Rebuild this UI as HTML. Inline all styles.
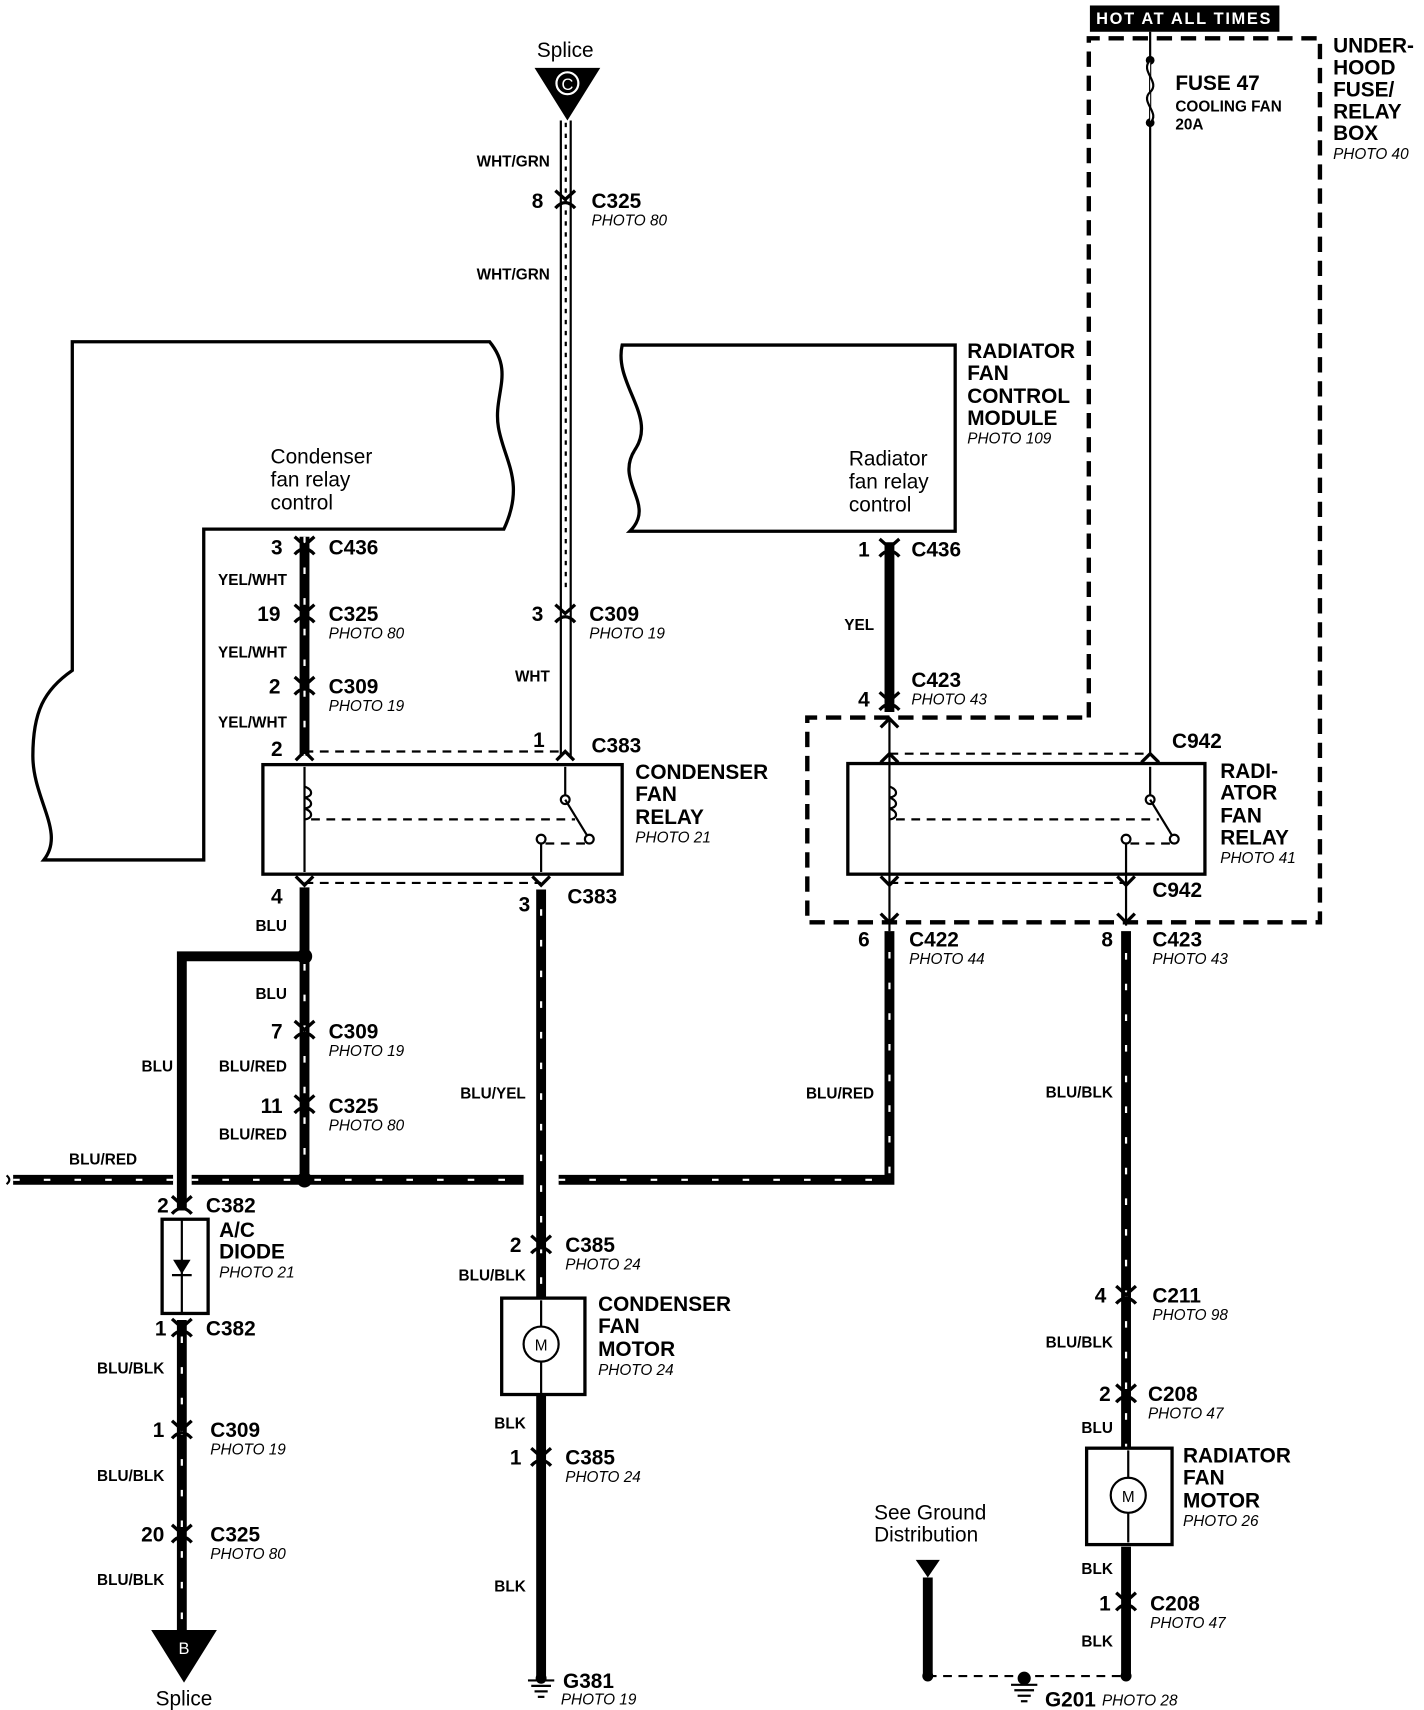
<!DOCTYPE html>
<html><head><meta charset="utf-8"><style>
html,body{margin:0;padding:0;background:#fff;width:1424px;height:1710px;overflow:hidden}
svg{display:block}
text{font-family:"Liberation Sans",sans-serif;fill:#000}
.b{font-weight:bold;font-size:19px}
.s{font-weight:bold;font-size:14px}
.p{font-style:italic;font-size:14px}
.n{font-size:19px}
.w{stroke:#000;stroke-width:9;fill:none}
.st{stroke:#fff;stroke-width:2;stroke-dasharray:6 22;fill:none}
.t{stroke:#000;stroke-width:2;fill:none}
.d{stroke:#000;stroke-width:2;fill:none;stroke-dasharray:8 6}
.bx{stroke:#000;stroke-width:4;fill:none;stroke-dasharray:14 8}
.c{stroke:#000;stroke-width:3;fill:none}
</style></head><body>
<svg width="1424" height="1710" viewBox="0 0 1300 1561" preserveAspectRatio="none">
<defs>
<g id="cn"><path class="c" d="M-9,-8 L0,0 L9,-8"/><path class="c" d="M-9,8 Q0,-2 9,8"/></g>
</defs>
<rect x="0" y="0" width="1300" height="1561" fill="#fff"/>

<!-- top splice C -->
<text x="516" y="52" class="n" text-anchor="middle">Splice</text>
<polygon points="488,62 548,62 518,110" fill="#000"/>
<circle cx="518" cy="76" r="10" fill="none" stroke="#fff" stroke-width="2"/>
<text x="518" y="82" font-size="15" text-anchor="middle" style="fill:#fff">C</text>
<line x1="512" y1="110" x2="512" y2="690" class="t"/>
<line x1="521" y1="110" x2="521" y2="690" class="t"/>
<line x1="516.5" y1="112" x2="516.5" y2="540" stroke="#000" stroke-width="2" stroke-dasharray="4 6"/>
<text x="502" y="152" class="s" text-anchor="end">WHT/GRN</text>
<use href="#cn" x="516" y="182"/>
<text x="496" y="190" class="b" text-anchor="end">8</text>
<text x="540" y="190" class="b">C325</text><text x="540" y="206" class="p">PHOTO 80</text>
<text x="502" y="255" class="s" text-anchor="end">WHT/GRN</text>
<use href="#cn" x="516" y="560"/>
<text x="496" y="567" class="b" text-anchor="end">3</text>
<text x="538" y="567" class="b">C309</text><text x="538" y="583" class="p">PHOTO 19</text>
<text x="502" y="622" class="s" text-anchor="end">WHT</text>

<!-- left module -->
<path class="c" d="M66,312 L447,312 C470,340 450,360 455,390 C460,420 480,440 460,483 L186,483 L186,785 L40,785 C60,760 30,730 30,690 C30,650 40,630 66,612 Z"/>
<text x="247" y="423" class="n">Condenser</text>
<text x="247" y="444" class="n">fan relay</text>
<text x="247" y="465" class="n">control</text>

<!-- right module -->
<path class="c" d="M568,315 L872,315 L872,485 L575,485 C600,460 560,440 580,410 C600,380 560,350 568,315 Z"/>
<text x="775" y="425" class="n">Radiator</text>
<text x="775" y="446" class="n">fan relay</text>
<text x="775" y="467" class="n">control</text>
<text x="883" y="327" class="b">RADIATOR</text>
<text x="883" y="347" class="b">FAN</text>
<text x="883" y="368" class="b">CONTROL</text>
<text x="883" y="388" class="b">MODULE</text>
<text x="883" y="405" class="p">PHOTO 109</text>

<!-- underhood box -->
<rect x="995" y="5" width="173" height="24" fill="#000"/>
<text x="1081" y="22" font-size="15" font-weight="bold" letter-spacing="1.5" text-anchor="middle" style="fill:#fff">HOT AT ALL TIMES</text>
<path class="bx" d="M994,655 L994,35 L1205,35 L1205,842 L737,842 L737,655 Z"/>
<text x="1217" y="48" class="b">UNDER-</text>
<text x="1217" y="68" class="b">HOOD</text>
<text x="1217" y="88" class="b">FUSE/</text>
<text x="1217" y="108" class="b">RELAY</text>
<text x="1217" y="128" class="b">BOX</text>
<text x="1217" y="145" class="p">PHOTO 40</text>
<line x1="1050" y1="29" x2="1050" y2="690" class="t"/>
<circle cx="1050" cy="55" r="4" fill="#000"/><circle cx="1050" cy="112" r="4" fill="#000"/>
<path d="M1050,55 C1040,65 1060,75 1050,84 C1040,93 1060,103 1050,112" stroke="#000" stroke-width="2" fill="#fff"/>
<text x="1073" y="82" class="b">FUSE 47</text>
<text x="1073" y="102" class="s">COOLING FAN</text>
<text x="1073" y="118" class="s">20A</text>

<!-- left YEL/WHT wire -->
<line x1="278" y1="490" x2="278" y2="690" class="w"/>
<line x1="278" y1="490" x2="278" y2="690" class="st"/>
<use href="#cn" x="278" y="498"/><text x="258" y="506" class="b" text-anchor="end">3</text>
<text x="300" y="506" class="b">C436</text>
<text x="262" y="534" class="s" text-anchor="end">YEL/WHT</text>
<use href="#cn" x="278" y="560"/><text x="256" y="567" class="b" text-anchor="end">19</text>
<text x="300" y="567" class="b">C325</text><text x="300" y="583" class="p">PHOTO 80</text>
<text x="262" y="600" class="s" text-anchor="end">YEL/WHT</text>
<use href="#cn" x="278" y="626"/><text x="256" y="633" class="b" text-anchor="end">2</text>
<text x="300" y="633" class="b">C309</text><text x="300" y="649" class="p">PHOTO 19</text>
<text x="262" y="664" class="s" text-anchor="end">YEL/WHT</text>
<text x="258" y="690" class="b" text-anchor="end">2</text>
<line x1="278" y1="686" x2="516" y2="686" class="d"/>
<text x="492" y="682" class="b" text-anchor="middle">1</text>
<text x="540" y="687" class="b">C383</text>
<path class="c" d="M270,694 L278,686 L286,694"/><path class="c" d="M508,694 L516,686 L524,694"/>

<!-- condenser relay -->
<rect x="240" y="698" width="328" height="100" fill="none" stroke="#000" stroke-width="3"/>
<line x1="278" y1="700" x2="278" y2="796" class="t"/>
<path d="M278,718 c8,3 8,9 0,10 c8,3 8,9 0,10 c8,3 8,9 0,10" fill="none" stroke="#000" stroke-width="2"/>
<line x1="284" y1="748" x2="525" y2="748" class="d"/>
<line x1="516" y1="700" x2="516" y2="730" class="t"/><circle cx="516" cy="730" r="4" fill="#fff" stroke="#000" stroke-width="2"/>
<line x1="516" y1="730" x2="538" y2="766" class="t"/><circle cx="538" cy="766" r="4" fill="#fff" stroke="#000" stroke-width="2"/>
<circle cx="494" cy="766" r="4" fill="#fff" stroke="#000" stroke-width="2"/>
<line x1="494" y1="770" x2="494" y2="796" class="t"/>
<line x1="498" y1="770" x2="534" y2="770" class="d"/>
<text x="580" y="711" class="b">CONDENSER</text>
<text x="580" y="731" class="b">FAN</text>
<text x="580" y="752" class="b">RELAY</text>
<text x="580" y="769" class="p">PHOTO 21</text>
<line x1="278" y1="806" x2="494" y2="806" class="d"/>
<path class="c" d="M270,800 L278,808 L286,800"/><path class="c" d="M486,800 L494,808 L502,800"/>

<!-- BLU wire down -->
<line x1="278" y1="810" x2="278" y2="1077" class="w"/>
<line x1="278" y1="880" x2="278" y2="1077" class="st"/>
<text x="258" y="825" class="b" text-anchor="end">4</text>
<text x="262" y="850" class="s" text-anchor="end">BLU</text>
<circle cx="278" cy="873" r="7" fill="#000"/>
<path d="M278,873 L166,873 L166,1105" class="w"/>
<text x="262" y="912" class="s" text-anchor="end">BLU</text>
<use href="#cn" x="278" y="940"/><text x="258" y="948" class="b" text-anchor="end">7</text>
<text x="300" y="948" class="b">C309</text><text x="300" y="964" class="p">PHOTO 19</text>
<text x="262" y="978" class="s" text-anchor="end">BLU/RED</text>
<text x="158" y="978" class="s" text-anchor="end">BLU</text>
<use href="#cn" x="278" y="1008"/><text x="258" y="1016" class="b" text-anchor="end">11</text>
<text x="300" y="1016" class="b">C325</text><text x="300" y="1032" class="p">PHOTO 80</text>
<text x="262" y="1040" class="s" text-anchor="end">BLU/RED</text>
<circle cx="278" cy="1077" r="7" fill="#000"/>

<!-- horizontal BLU/RED -->
<text x="63" y="1063" class="s">BLU/RED</text>
<path d="M6,1081 q5,-4 0,-8" stroke="#000" stroke-width="2" fill="none"/>
<path d="M12,1077 L158,1077 M175,1077 L478,1077 M510,1077 L812,1077 L812,850" class="w"/>
<path d="M12,1077 L158,1077 M175,1077 L478,1077 M510,1077 L812,1077 L812,850" class="st"/>

<!-- BLU/YEL condenser motor wire -->
<line x1="494" y1="812" x2="494" y2="1190" class="w"/>
<line x1="494" y1="830" x2="494" y2="1190" class="st"/>
<text x="484" y="832" class="b" text-anchor="end">3</text>
<text x="518" y="825" class="b">C383</text>
<text x="480" y="1003" class="s" text-anchor="end">BLU/YEL</text>
<use href="#cn" x="494" y="1136"/><text x="476" y="1143" class="b" text-anchor="end">2</text>
<text x="516" y="1143" class="b">C385</text><text x="516" y="1159" class="p">PHOTO 24</text>
<text x="480" y="1169" class="s" text-anchor="end">BLU/BLK</text>
<rect x="458" y="1185" width="76" height="88" fill="#fff" stroke="#000" stroke-width="3"/>
<circle cx="494" cy="1227" r="16" fill="#fff" stroke="#000" stroke-width="2"/>
<text x="494" y="1233" font-size="14" text-anchor="middle">M</text>
<line x1="494" y1="1187" x2="494" y2="1211" class="t"/><line x1="494" y1="1243" x2="494" y2="1272" class="t"/>
<text x="546" y="1197" class="b">CONDENSER</text>
<text x="546" y="1217" class="b">FAN</text>
<text x="546" y="1238" class="b">MOTOR</text>
<text x="546" y="1255" class="p">PHOTO 24</text>
<line x1="494" y1="1274" x2="494" y2="1530" class="w"/>
<text x="480" y="1304" class="s" text-anchor="end">BLK</text>
<use href="#cn" x="494" y="1330"/><text x="476" y="1337" class="b" text-anchor="end">1</text>
<text x="516" y="1337" class="b">C385</text><text x="516" y="1353" class="p">PHOTO 24</text>
<text x="480" y="1453" class="s" text-anchor="end">BLK</text>
<g stroke="#000" stroke-width="2"><line x1="482" y1="1534" x2="506" y2="1534"/><line x1="485" y1="1539" x2="503" y2="1539"/><line x1="488" y1="1544" x2="500" y2="1544"/><line x1="491" y1="1549" x2="497" y2="1549"/></g>
<circle cx="494" cy="1532" r="5" fill="#000"/>
<text x="514" y="1541" class="b">G381</text><text x="512" y="1556" class="p">PHOTO 19</text>

<!-- A/C diode -->
<use href="#cn" x="166" y="1100"/><text x="154" y="1107" class="b" text-anchor="end">2</text>
<text x="188" y="1107" class="b">C382</text>
<rect x="148" y="1113" width="42" height="86" fill="none" stroke="#000" stroke-width="3"/>
<line x1="166" y1="1113" x2="166" y2="1199" class="t"/>
<polygon points="158,1150 174,1150 166,1163" fill="#000"/><line x1="157" y1="1164" x2="175" y2="1164" class="t"/>
<text x="200" y="1129" class="b">A/C</text>
<text x="200" y="1149" class="b">DIODE</text>
<text x="200" y="1166" class="p">PHOTO 21</text>
<line x1="166" y1="1205" x2="166" y2="1490" class="w"/>
<line x1="166" y1="1220" x2="166" y2="1490" class="st"/>
<use href="#cn" x="166" y="1212"/><text x="152" y="1219" class="b" text-anchor="end">1</text>
<text x="188" y="1219" class="b">C382</text>
<text x="150" y="1254" class="s" text-anchor="end">BLU/BLK</text>
<use href="#cn" x="166" y="1305"/><text x="150" y="1312" class="b" text-anchor="end">1</text>
<text x="192" y="1312" class="b">C309</text><text x="192" y="1328" class="p">PHOTO 19</text>
<text x="150" y="1352" class="s" text-anchor="end">BLU/BLK</text>
<use href="#cn" x="166" y="1400"/><text x="150" y="1407" class="b" text-anchor="end">20</text>
<text x="192" y="1407" class="b">C325</text><text x="192" y="1423" class="p">PHOTO 80</text>
<text x="150" y="1447" class="s" text-anchor="end">BLU/BLK</text>
<polygon points="138,1488 198,1488 168,1536" fill="#000"/>
<text x="168" y="1510" font-size="15" text-anchor="middle" style="fill:#fff">B</text>
<text x="168" y="1557" class="n" text-anchor="middle">Splice</text>

<!-- YEL wire right -->
<line x1="812" y1="495" x2="812" y2="650" class="w"/>
<use href="#cn" x="812" y="500"/><text x="794" y="508" class="b" text-anchor="end">1</text>
<text x="832" y="508" class="b">C436</text>
<text x="798" y="575" class="s" text-anchor="end">YEL</text>
<use href="#cn" x="812" y="640"/><text x="794" y="645" class="b" text-anchor="end">4</text>
<text x="832" y="627" class="b">C423</text><text x="832" y="643" class="p">PHOTO 43</text>
<line x1="812" y1="655" x2="812" y2="808" class="t"/>
<path class="c" d="M804,664 L812,656 L820,664"/>
<line x1="812" y1="688" x2="1050" y2="688" class="d"/>
<path class="c" d="M804,696 L812,688 L820,696"/><path class="c" d="M1042,696 L1050,688 L1058,696"/>
<text x="1070" y="683" class="b">C942</text>

<!-- radiator relay -->
<rect x="774" y="697" width="326" height="101" fill="none" stroke="#000" stroke-width="3"/>
<path d="M812,718 c8,3 8,9 0,10 c8,3 8,9 0,10 c8,3 8,9 0,10" fill="none" stroke="#000" stroke-width="2"/>
<line x1="818" y1="748" x2="1058" y2="748" class="d"/>
<line x1="1050" y1="700" x2="1050" y2="730" class="t"/><circle cx="1050" cy="730" r="4" fill="#fff" stroke="#000" stroke-width="2"/>
<line x1="1050" y1="730" x2="1072" y2="766" class="t"/><circle cx="1072" cy="766" r="4" fill="#fff" stroke="#000" stroke-width="2"/>
<circle cx="1028" cy="766" r="4" fill="#fff" stroke="#000" stroke-width="2"/>
<line x1="1028" y1="770" x2="1028" y2="845" class="t"/>
<line x1="1032" y1="770" x2="1068" y2="770" class="d"/>
<text x="1114" y="710" class="b">RADI-</text>
<text x="1114" y="730" class="b">ATOR</text>
<text x="1114" y="751" class="b">FAN</text>
<text x="1114" y="771" class="b">RELAY</text>
<text x="1114" y="788" class="p">PHOTO 41</text>
<line x1="812" y1="806" x2="1028" y2="806" class="d"/>
<path class="c" d="M804,800 L812,808 L820,800"/><path class="c" d="M1020,800 L1028,808 L1036,800"/>
<text x="1052" y="819" class="b">C942</text>
<line x1="812" y1="808" x2="812" y2="850" class="t"/>
<path class="c" d="M804,834 L812,842 L820,834"/><path class="c" d="M1020,834 L1028,842 L1036,834"/>
<text x="794" y="864" class="b" text-anchor="end">6</text>
<text x="830" y="864" class="b">C422</text><text x="830" y="880" class="p">PHOTO 44</text>
<text x="798" y="1003" class="s" text-anchor="end">BLU/RED</text>

<!-- radiator motor wire -->
<line x1="1028" y1="850" x2="1028" y2="1325" class="w"/>
<line x1="1028" y1="870" x2="1028" y2="1325" class="st"/>
<text x="1016" y="864" class="b" text-anchor="end">8</text>
<text x="1052" y="864" class="b">C423</text><text x="1052" y="880" class="p">PHOTO 43</text>
<text x="1016" y="1002" class="s" text-anchor="end">BLU/BLK</text>
<use href="#cn" x="1028" y="1182"/><text x="1010" y="1189" class="b" text-anchor="end">4</text>
<text x="1052" y="1189" class="b">C211</text><text x="1052" y="1205" class="p">PHOTO 98</text>
<text x="1016" y="1230" class="s" text-anchor="end">BLU/BLK</text>
<use href="#cn" x="1028" y="1272"/><text x="1014" y="1279" class="b" text-anchor="end">2</text>
<text x="1048" y="1279" class="b">C208</text><text x="1048" y="1295" class="p">PHOTO 47</text>
<text x="1016" y="1308" class="s" text-anchor="end">BLU</text>
<rect x="992" y="1322" width="78" height="88" fill="#fff" stroke="#000" stroke-width="3"/>
<circle cx="1030" cy="1365" r="16" fill="#fff" stroke="#000" stroke-width="2"/>
<text x="1030" y="1371" font-size="14" text-anchor="middle">M</text>
<line x1="1030" y1="1324" x2="1030" y2="1349" class="t"/><line x1="1030" y1="1381" x2="1030" y2="1408" class="t"/>
<text x="1080" y="1335" class="b">RADIATOR</text>
<text x="1080" y="1355" class="b">FAN</text>
<text x="1080" y="1376" class="b">MOTOR</text>
<text x="1080" y="1393" class="p">PHOTO 26</text>
<line x1="1028" y1="1412" x2="1028" y2="1530" class="w"/>
<text x="1016" y="1437" class="s" text-anchor="end">BLK</text>
<use href="#cn" x="1028" y="1462"/><text x="1014" y="1470" class="b" text-anchor="end">1</text>
<text x="1050" y="1470" class="b">C208</text><text x="1050" y="1486" class="p">PHOTO 47</text>
<text x="1016" y="1503" class="s" text-anchor="end">BLK</text>

<!-- ground G201 -->
<text x="798" y="1387" class="n">See Ground</text>
<text x="798" y="1407" class="n">Distribution</text>
<polygon points="836,1424 858,1424 847,1440" fill="#000"/>
<line x1="847" y1="1440" x2="847" y2="1530" class="w"/>
<line x1="847" y1="1530" x2="1028" y2="1530" class="d"/>
<circle cx="847" cy="1530" r="5" fill="#000"/><circle cx="1028" cy="1530" r="5" fill="#000"/>
<circle cx="935" cy="1532" r="6" fill="#000"/>
<g stroke="#000" stroke-width="2"><line x1="923" y1="1538" x2="947" y2="1538"/><line x1="926" y1="1543" x2="944" y2="1543"/><line x1="929" y1="1548" x2="941" y2="1548"/><line x1="932" y1="1553" x2="938" y2="1553"/></g>
<text x="954" y="1558" class="b">G201</text><text x="1006" y="1557" class="p">PHOTO 28</text>
</svg>
</body></html>
